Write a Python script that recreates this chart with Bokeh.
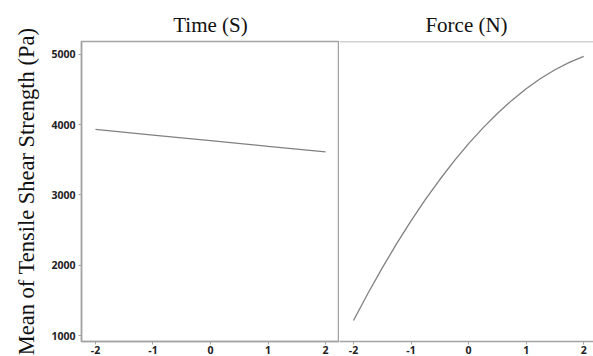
from bokeh.plotting import figure
from bokeh.layouts import row
from bokeh.models import Range1d, FixedTicker, Span, CustomJSTickFormatter
from bokeh.embed import file_html
from bokeh.resources import INLINE

# ---- data ----
time_x = [-2, -1, 0, 1, 2]
time_y = [3933, 3853, 3773, 3693, 3613]

force_x = [-2, -1.75, -1.5, -1.25, -1, -0.75, -0.5, -0.25, 0,
           0.25, 0.5, 0.75, 1, 1.25, 1.5, 1.75, 2]
force_y = [1213, 1598, 1962, 2307, 2631, 2936, 3220, 3485, 3730,
           3955, 4160, 4346, 4511, 4657, 4782, 4888, 4972]

y_ticks = [1000, 2000, 3000, 4000, 5000]
x_ticks = [-2, -1, 0, 1, 2]
titles = ["Time (S)", "Force (N)"]
y_label = "Mean of Tensile Shear Strength (Pa)"

Y_START, Y_END = 915, 5184
FRAME = "#a3a3a3"
CURVE = "#808080"
TICK_FONT = "Open Sans"
SERIF = "Liberation Serif"

y_range = Range1d(Y_START, Y_END)
fmt = CustomJSTickFormatter(code="return tick.toString();")


def style(p, title):
    p.title.text = title
    p.title.align = "center"
    p.title.text_font = SERIF
    p.title.text_font_size = "21px"
    p.title.text_font_style = "normal"
    p.title.text_color = "#111111"
    p.grid.visible = False
    p.xaxis.ticker = FixedTicker(ticks=x_ticks)
    p.xaxis.formatter = fmt
    p.xaxis.major_label_text_font = TICK_FONT
    p.xaxis.major_label_text_font_style = "bold"
    p.xaxis.major_label_text_font_size = "10.5px"
    p.xaxis.major_label_text_color = "#222222"
    p.xaxis.major_label_standoff = 1
    p.xaxis.major_tick_out = 3
    p.xaxis.major_tick_in = 0
    p.xaxis.minor_tick_line_color = None
    p.xaxis.axis_line_color = FRAME
    p.xaxis.axis_line_width = 1.5
    p.xaxis.major_tick_line_color = FRAME
    p.background_fill_color = "white"
    p.border_fill_color = "white"


left = figure(width=339, height=356, x_range=Range1d(-2.243, 2.243), y_range=y_range,
              output_backend="svg", toolbar_location=None,
              min_border_left=81, min_border_right=0, min_border_top=41, min_border_bottom=0)
style(left, titles[0])
left.outline_line_color = FRAME
left.outline_line_width = 1.5
left.yaxis.ticker = FixedTicker(ticks=y_ticks)
left.yaxis.major_label_text_font = TICK_FONT
left.yaxis.major_label_text_font_style = "bold"
left.yaxis.major_label_text_font_size = "10.5px"
left.yaxis.major_label_text_color = "#222222"
left.yaxis.major_label_standoff = 3
left.yaxis.major_tick_out = 3
left.yaxis.major_tick_in = 0
left.yaxis.minor_tick_line_color = None
left.yaxis.axis_line_color = FRAME
left.yaxis.axis_line_width = 1.5
left.yaxis.major_tick_line_color = FRAME
left.yaxis.axis_label = y_label
left.yaxis.axis_label_text_font = SERIF
left.yaxis.axis_label_text_font_size = "22.5px"
left.yaxis.axis_label_text_font_style = "normal"
left.yaxis.axis_label_text_color = "#111111"
left.yaxis.axis_label_standoff = 9
left.line(time_x, time_y, line_color=CURVE, line_width=1.3)

right = figure(width=254, height=356, x_range=Range1d(-2.243, 2.17), y_range=y_range,
               output_backend="svg", toolbar_location=None,
               min_border_left=0, min_border_right=0, min_border_top=41, min_border_bottom=0)
style(right, titles[1])
right.yaxis.visible = False
right.outline_line_color = None
right.add_layout(Span(location=Y_END, dimension="width", line_color=FRAME, line_width=1.5))
right.line(force_x, force_y, line_color=CURVE, line_width=1.3)

layout = row(left, right)
open("out.html", "w").write(file_html(layout, INLINE))
